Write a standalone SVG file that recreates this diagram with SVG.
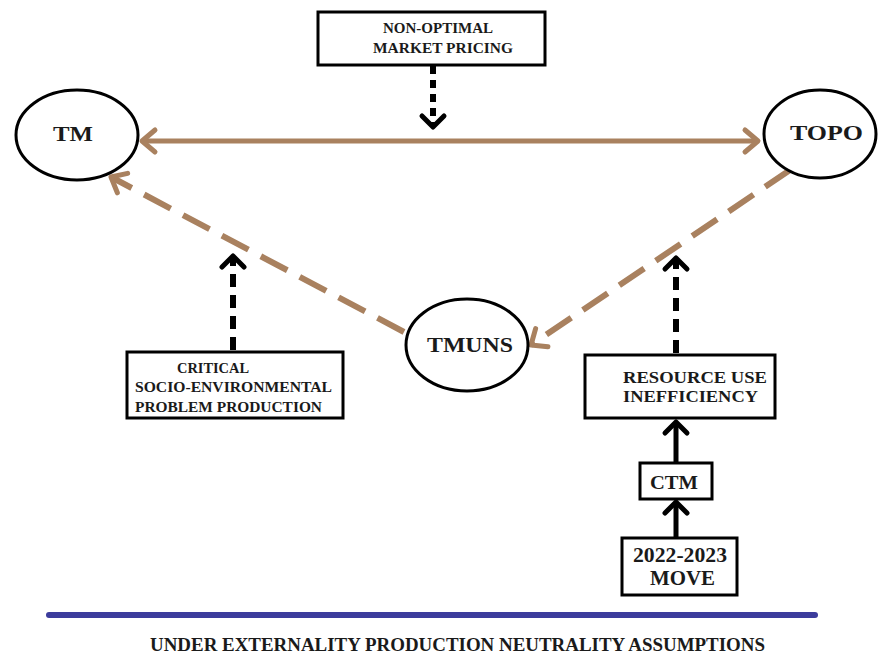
<svg xmlns="http://www.w3.org/2000/svg" width="878" height="658" viewBox="0 0 878 658">
<style>
.t{font-family:"Liberation Serif","Times New Roman",serif;font-weight:bold;fill:#1a1a1a;}
.node{fill:#fff;stroke:#000;stroke-width:3;}
.brown{stroke:#a9815f;stroke-width:5;fill:none;}
.bdash{stroke:#a9815f;stroke-width:6;fill:none;stroke-dasharray:30 14;}
.kdash{stroke:#000;stroke-width:6;fill:none;stroke-dasharray:13 8;}
.kdot{stroke:#000;stroke-width:6;fill:none;stroke-dasharray:8 6;}
.ksolid{stroke:#000;stroke-width:5;fill:none;}
</style>
<defs>
<marker id="hb" markerUnits="userSpaceOnUse" markerWidth="30" markerHeight="30" viewBox="-16 -15 20 30" refX="0" refY="0" orient="auto-start-reverse">
<path d="M-13 -11 L0 0 L-13 11" fill="none" stroke="#a9815f" stroke-width="5" stroke-linecap="round" stroke-linejoin="round"/>
</marker>
<marker id="hk" markerUnits="userSpaceOnUse" markerWidth="30" markerHeight="30" viewBox="-16 -15 20 30" refX="0" refY="0" orient="auto">
<path d="M-11 -11 L0 0 L-11 11" fill="none" stroke="#000" stroke-width="5" stroke-linecap="round" stroke-linejoin="round"/>
</marker>
</defs>
<rect width="878" height="658" fill="#fff"/>
<g id="connectors">
<line class="brown" x1="142" y1="141" x2="758" y2="141" marker-start="url(#hb)" marker-end="url(#hb)"/>
<line class="bdash" x1="404" y1="332" x2="111" y2="177" marker-end="url(#hb)"/>
<line class="bdash" x1="790" y1="170" x2="531" y2="345" marker-end="url(#hb)"/>
<line class="kdot" x1="433" y1="66" x2="433" y2="127" marker-end="url(#hk)"/>
<line class="kdash" x1="233" y1="350" x2="233" y2="256" marker-end="url(#hk)"/>
<line class="kdash" x1="676" y1="353" x2="676" y2="258" marker-end="url(#hk)"/>
<line class="ksolid" x1="676" y1="463" x2="676" y2="422" marker-end="url(#hk)"/>
<line class="ksolid" x1="676" y1="538" x2="676" y2="502" marker-end="url(#hk)"/>
</g>
<g id="non-optimal">
<rect class="node" x="318" y="12" width="227" height="53"/>
<text class="t" x="383" y="33" font-size="15" textLength="110" lengthAdjust="spacingAndGlyphs">NON-OPTIMAL</text>
<text class="t" x="373" y="53" font-size="15" textLength="140" lengthAdjust="spacingAndGlyphs">MARKET PRICING</text>
</g>
<g id="tm">
<ellipse class="node" cx="77" cy="135" rx="61" ry="45"/>
<text class="t" x="53" y="141" font-size="21" textLength="40" lengthAdjust="spacingAndGlyphs">TM</text>
</g>
<g id="topo">
<ellipse class="node" cx="820" cy="134" rx="56" ry="44"/>
<text class="t" x="790" y="140" font-size="21" textLength="73" lengthAdjust="spacingAndGlyphs">TOPO</text>
</g>
<g id="tmuns">
<ellipse class="node" cx="467" cy="345" rx="61" ry="46"/>
<text class="t" x="427" y="352" font-size="22" textLength="86" lengthAdjust="spacingAndGlyphs">TMUNS</text>
</g>
<g id="critical">
<rect class="node" x="127" y="352" width="216" height="66"/>
<text class="t" x="177" y="373" font-size="14.5" textLength="72" lengthAdjust="spacingAndGlyphs">CRITICAL</text>
<text class="t" x="135" y="392" font-size="14.5" textLength="197" lengthAdjust="spacingAndGlyphs">SOCIO-ENVIRONMENTAL</text>
<text class="t" x="135" y="412" font-size="14.5" textLength="187" lengthAdjust="spacingAndGlyphs">PROBLEM PRODUCTION</text>
</g>
<g id="resource">
<rect class="node" x="585" y="355" width="190" height="63"/>
<text class="t" x="623" y="383" font-size="16.5" textLength="144" lengthAdjust="spacingAndGlyphs">RESOURCE USE</text>
<text class="t" x="623" y="402" font-size="16.5" textLength="135" lengthAdjust="spacingAndGlyphs">INEFFICIENCY</text>
</g>
<g id="ctm">
<rect class="node" x="640" y="463" width="72" height="36"/>
<text class="t" x="650" y="489" font-size="19" textLength="48" lengthAdjust="spacingAndGlyphs">CTM</text>
</g>
<g id="move">
<rect class="node" x="622" y="538" width="115" height="57"/>
<text class="t" x="633" y="562" font-size="20" textLength="94" lengthAdjust="spacingAndGlyphs">2022-2023</text>
<text class="t" x="650" y="585" font-size="20" textLength="65" lengthAdjust="spacingAndGlyphs">MOVE</text>
</g>
<line x1="49" y1="615" x2="815" y2="615" stroke="#3c3c9c" stroke-width="6" stroke-linecap="round"/>
<text class="t" x="150" y="651" font-size="18" textLength="615" lengthAdjust="spacingAndGlyphs">UNDER EXTERNALITY PRODUCTION NEUTRALITY ASSUMPTIONS</text>
</svg>
